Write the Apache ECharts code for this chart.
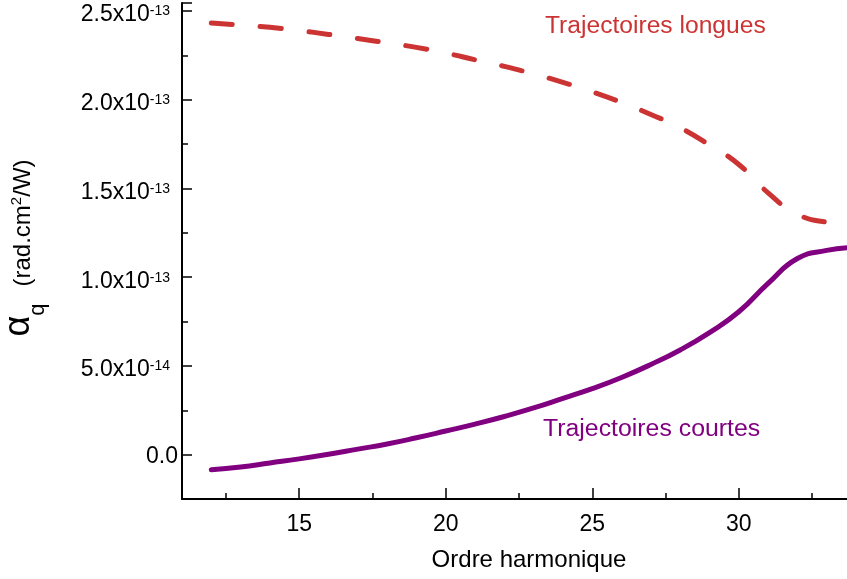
<!DOCTYPE html>
<html>
<head>
<meta charset="utf-8">
<script src="https://cdn.jsdelivr.net/npm/echarts@6/dist/echarts.min.js"></script>
<style>
  html, body { margin: 0; padding: 0; background: #ffffff; }
  #chart { width: 847px; height: 579px; }
</style>
</head>
<body>
<div id="chart"></div>
<script>
// Harmonic order (x values)
const harmonics = [12, 13, 14, 15, 16, 17, 18, 19, 20, 21, 22, 23, 24, 25, 26, 27, 28, 29, 30, 31, 32, 33, 33.7];
// Phase coefficient alpha_q, in units of 1e-14 rad.cm²/W
const longues = [24.32, 24.20, 24.08, 23.90, 23.68, 23.45, 23.20, 22.95, 22.63, 22.25, 21.88, 21.45, 20.98, 20.45, 19.85, 19.17, 18.42, 17.45, 16.35, 14.75, 13.55, 13.10, 13.02];
const courtes = [-0.85, -0.70, -0.47, -0.24, 0.02, 0.31, 0.60, 0.95, 1.33, 1.72, 2.15, 2.63, 3.17, 3.72, 4.35, 5.08, 5.90, 6.88, 8.05, 9.65, 11.05, 11.51, 11.66];

// Y tick labels: value (1e-14 units), mantissa text, exponent text
const yTickValues = [0, 5, 10, 15, 20, 25];
const yTickMantissa = ['0.0', '5.0x10', '1.0x10', '1.5x10', '2.0x10', '2.5x10'];
const yTickExponent = ['', '-14', '-13', '-13', '-13', '-13'];
// X tick labels
const xTickValues = [15, 20, 25, 30];

const X_MIN = 11, X_MAX = 34;
const Y_MIN = -2.5, Y_MAX = 25.45;

// evenly spaced category positions used only to place the x minor ticks
const xMinorSlots = [];
for (let v = X_MIN; v <= X_MAX + 1e-9; v += 0.5) xMinorSlots.push(String(v));

const FONT = 'Liberation Sans, Arial, Helvetica, sans-serif';
const RED = '#cc3333';
const PURPLE = '#800080';

const gridRect = { left: 182, top: 3, width: 674, height: 496, outerBoundsMode: 'none', containLabel: false };

function yLabel(v) {
  const i = yTickValues.findIndex(t => Math.abs(t - v) < 1e-6);
  if (i < 0) return '';
  if (!yTickExponent[i]) return '{z|' + yTickMantissa[i] + '}';
  return '{m|' + yTickMantissa[i] + '}{e|' + yTickExponent[i] + '}';
}
function xLabel(v) {
  return xTickValues.some(t => Math.abs(t - v) < 1e-6) ? String(v) : '';
}

const chart = echarts.init(document.getElementById('chart'), null, { renderer: 'canvas' });

chart.setOption({
  backgroundColor: '#ffffff',
  animation: false,
  textStyle: { fontFamily: FONT },
  grid: [
    Object.assign({}, gridRect),
    Object.assign({}, gridRect)
  ],
  xAxis: [
    {
      gridIndex: 0,
      type: 'value',
      min: X_MIN, max: X_MAX,
      splitNumber: 5,
      name: 'Ordre harmonique',
      nameLocation: 'middle',
      nameGap: 49,
      nameTextStyle: { fontSize: 24, color: '#000', fontFamily: FONT, padding: [0, 0, 0, 20] },
      axisLine: { show: true, onZero: false, lineStyle: { color: '#000', width: 2 } },
      axisTick: { show: true, inside: true, length: 11, lineStyle: { color: '#000', width: 1.5 } },
      axisLabel: { show: true, color: '#000', fontSize: 23, fontFamily: FONT, margin: 14, formatter: xLabel },
      splitLine: { show: false }
    },
    {
      gridIndex: 1,
      type: 'category',
      data: xMinorSlots,
      boundaryGap: false,
      axisLine: { show: false, onZero: false },
      axisTick: {
        show: true, inside: true, length: 6,
        interval: (idx, val) => Math.abs(((Number(val) - 12.5) % 5 + 5) % 5) < 1e-6,
        lineStyle: { color: '#000', width: 1.5 }
      },
      axisLabel: { show: false },
      splitLine: { show: false }
    }
  ],
  yAxis: [
    {
      gridIndex: 0,
      type: 'value',
      min: Y_MIN, max: Y_MAX,
      splitNumber: 5,
      name: '{a|α}{q|q}{g|}{r|(rad.cm}{s|2}{r|/W)}',
      nameLocation: 'middle',
      nameRotate: 90,
      nameGap: 131,
      nameTextStyle: {
        color: '#000',
        fontFamily: FONT,
        padding: [0, 0, 0, 6],
        rich: {
          a: { fontSize: 36, lineHeight: 36, verticalAlign: 'bottom', padding: [0, 0, 14, 0], fontFamily: FONT, color: '#000' },
          q: { fontSize: 22, lineHeight: 22, verticalAlign: 'bottom', padding: [0, 0, 2, 0], fontFamily: FONT, color: '#000' },
          g: { width: 17, lineHeight: 10, verticalAlign: 'bottom' },
          r: { fontSize: 24, lineHeight: 24, verticalAlign: 'bottom', padding: [0, 0, 16, 0], fontFamily: FONT, color: '#000' },
          s: { fontSize: 15, lineHeight: 15, verticalAlign: 'bottom', padding: [0, 0, 27, 0], fontFamily: FONT, color: '#000' }
        }
      },
      axisLine: { show: true, onZero: false, lineStyle: { color: '#000', width: 2 } },
      axisTick: { show: true, inside: true, length: 10, lineStyle: { color: '#000', width: 1.5 } },
      axisLabel: {
        show: true, margin: 4, formatter: yLabel, padding: [8, 0, 0, 0],
        rich: {
          z: { fontSize: 23, lineHeight: 23, verticalAlign: 'bottom', padding: [0, 0, 2, 0], color: '#000', fontFamily: FONT },
          m: { fontSize: 23, lineHeight: 23, verticalAlign: 'bottom', color: '#000', fontFamily: FONT },
          e: { fontSize: 14, lineHeight: 14, verticalAlign: 'bottom', padding: [9, 8, 8, 0], color: '#000', fontFamily: FONT }
        }
      },
      splitLine: { show: false }
    },
    {
      gridIndex: 1,
      type: 'value',
      min: Y_MIN, max: Y_MAX,
      interval: 2.5,
      axisLine: { show: false, onZero: false },
      axisTick: { show: true, inside: true, length: 6, lineStyle: { color: '#000', width: 1.5 } },
      axisLabel: { show: false },
      splitLine: { show: false }
    }
  ],
  series: [
    {
      name: 'Trajectoires longues',
      type: 'line',
      xAxisIndex: 0, yAxisIndex: 0,
      data: harmonics.map((h, i) => [h, longues[i]]),
      smooth: 0.5,
      showSymbol: false,
      lineStyle: { color: RED, width: 5, type: [21, 28], cap: 'round' }
    },
    {
      name: 'Trajectoires courtes',
      type: 'line',
      xAxisIndex: 0, yAxisIndex: 0,
      data: harmonics.map((h, i) => [h, courtes[i]]),
      smooth: 0.5,
      showSymbol: false,
      lineStyle: { color: PURPLE, width: 5, cap: 'round' }
    }
  ],
  graphic: [
    {
      type: 'text', left: 545, top: 15, scaleX: 1.07,
      style: { text: 'Trajectoires longues', fill: RED, fontSize: 23, fontFamily: FONT }
    },
    {
      type: 'text', left: 543, top: 418, scaleX: 1.08,
      style: { text: 'Trajectoires courtes', fill: PURPLE, fontSize: 23, fontFamily: FONT }
    }
  ]
});
</script>
</body>
</html>
